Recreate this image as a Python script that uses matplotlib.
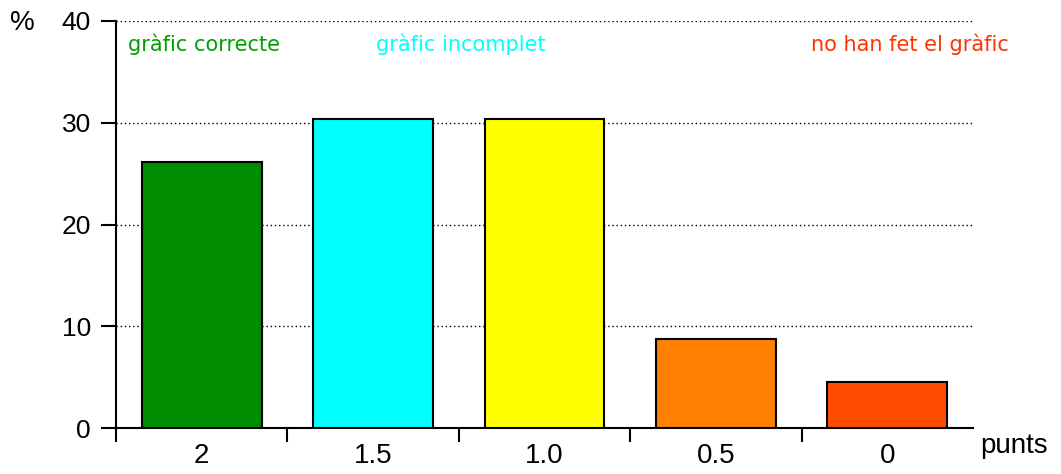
import matplotlib.pyplot as plt
from matplotlib.ticker import FixedLocator

plt.rcParams['font.family'] = ['Liberation Sans', 'DejaVu Sans']

# punts obtinguts i percentatge d'alumnes
categories = ['2', '1.5', '1.0', '0.5', '0']
percent = [26.1, 30.4, 30.4, 8.7, 4.5]
bar_colors = ['#008c00', '#00ffff', '#ffff00', '#ff7f00', '#ff4c00']

notes = ['gràfic correcte', 'gràfic incomplet', 'no han fet el gràfic']
note_colors = ['#00a000', '#00ffff', '#ff3300']

fig = plt.figure(figsize=(10.61, 4.74), dpi=100)
ax = fig.add_axes([116 / 1061, 46 / 474, 857 / 1061, 407 / 474])

x = list(range(len(categories)))
ax.bar(x, percent, width=0.70, color=bar_colors, edgecolor='black',
       linewidth=1.5, zorder=3)

ax.set_xlim(-0.5, len(categories) - 0.5)
ax.set_ylim(0, 40)
ax.set_yticks([0, 10, 20, 30, 40])
ax.yaxis.grid(True, linestyle=(0, (1, 2)), color='black', linewidth=1.0, zorder=0)

ax.set_xticks(x)
ax.set_xticklabels(categories)
ax.xaxis.set_minor_locator(FixedLocator([i - 0.5 for i in x]))
ax.tick_params(axis='x', which='major', length=0, pad=11, labelsize=20)
ax.tick_params(axis='x', which='minor', length=10, width=1.5, direction='out')
ax.tick_params(axis='y', length=11, width=1.5, direction='out', pad=7, labelsize=19)

for s in ['top', 'right']:
    ax.spines[s].set_visible(False)
for s in ['left', 'bottom']:
    ax.spines[s].set_linewidth(1.5)

fig.text(22 / 1061, 1 - 23 / 474, '%', fontsize=20, ha='center', va='center')
ax.text(1.008, -0.045, 'punts', transform=ax.transAxes, fontsize=20,
        ha='left', va='center')

# llegenda escrita sobre el gràfic
note_x = [128, 376, 811]
for t, c, px in zip(notes, note_colors, note_x):
    fig.text(px / 1061, 1 - 44 / 474, t, color=c, fontsize=15,
             family='DejaVu Sans', ha='left', va='center')

fig.savefig('out.png', dpi=100)
